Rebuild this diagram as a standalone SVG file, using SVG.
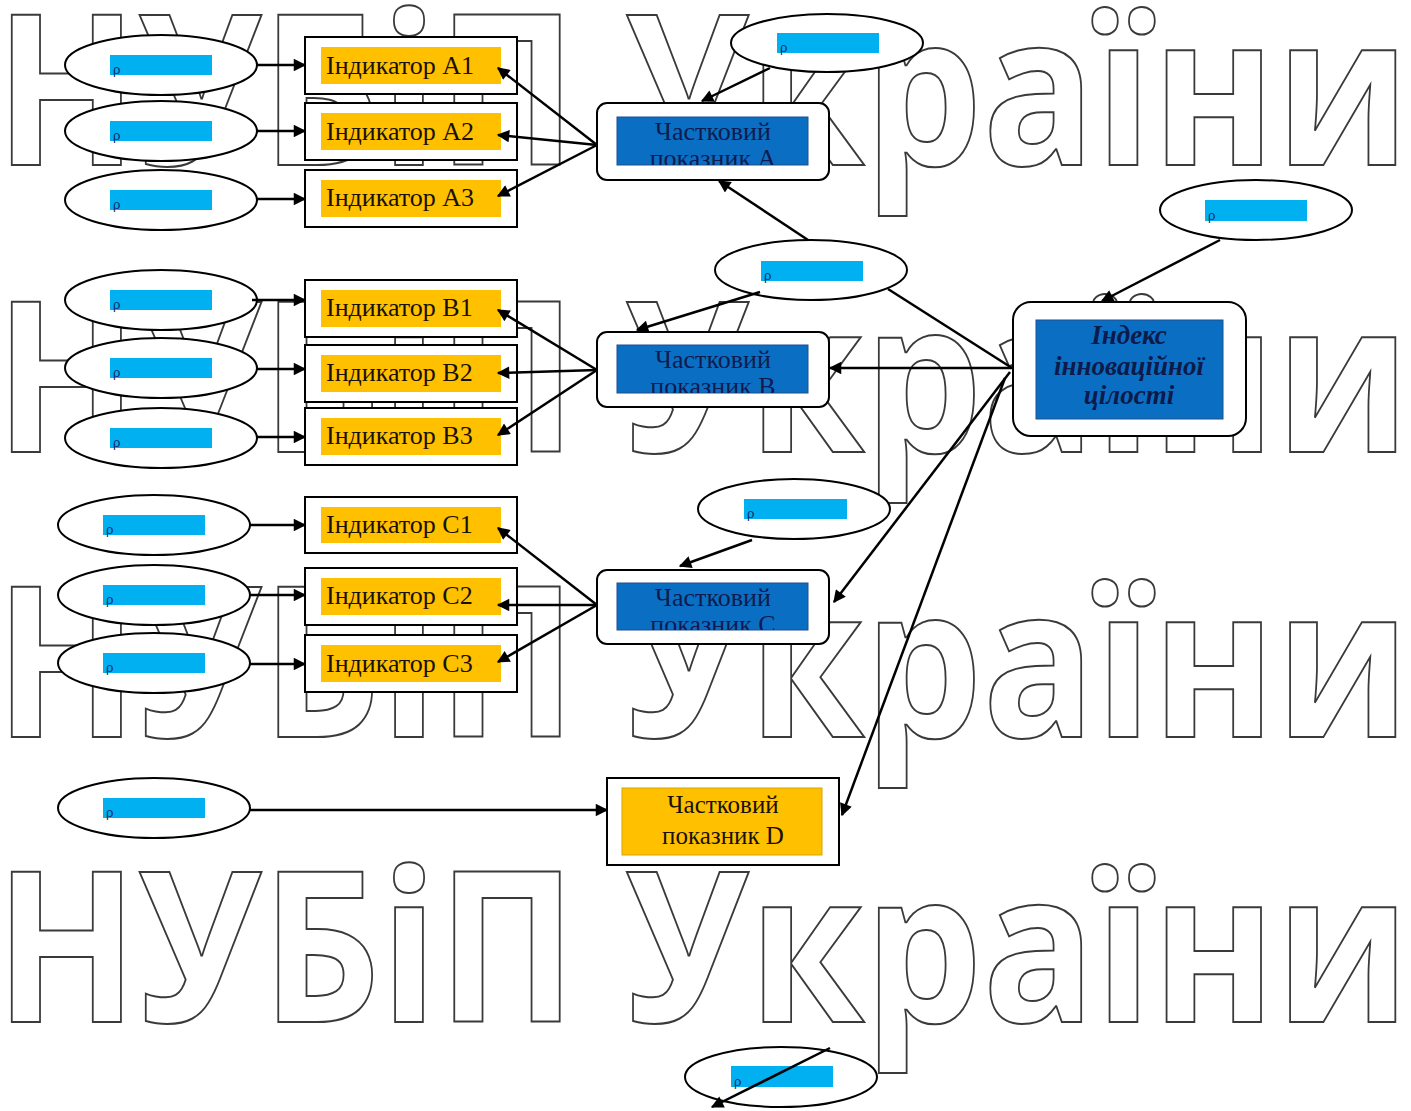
<svg xmlns="http://www.w3.org/2000/svg" width="1411" height="1111" viewBox="0 0 1411 1111">
<style>
.wm{font-family:"Open Sans","DejaVu Sans",sans-serif;font-weight:700;font-size:210px;fill:#fff;stroke:#3a3a3a;stroke-width:2}
.ell{fill:#fff;stroke:#000;stroke-width:2}
.cy{fill:#00B0F0}
.rho{font-family:"Liberation Sans",sans-serif;font-size:13px;fill:#102a6a}
.ibox{fill:#fff;stroke:#000;stroke-width:2}
.or{fill:#FFC000}
.itx{font-family:"Liberation Serif",serif;font-size:26px;fill:#1a1000}
.pbox{fill:#fff;stroke:#000;stroke-width:2}
.bl{fill:#0A6FC2;stroke:#1f4f8f;stroke-width:1}
.ptx{font-family:"Liberation Serif",serif;font-size:26px;fill:#101a50;text-anchor:middle}
.dtx{font-family:"Liberation Serif",serif;font-size:25px;fill:#1a1000;text-anchor:middle}
.xtx{font-family:"Liberation Serif",serif;font-size:27px;font-weight:bold;font-style:italic;fill:#0d1a4a;text-anchor:middle}
.cn{fill:none;stroke:#000;stroke-width:2.5}
</style>
<defs>
<marker id="ah" viewBox="0 0 10 10" refX="9" refY="5" markerWidth="6" markerHeight="5" orient="auto" markerUnits="strokeWidth">
<path d="M0,0 L10,5 L0,10 z" fill="#000"/>
</marker>
<clipPath id="clA"><rect x="617" y="117" width="191" height="48"/></clipPath>
<clipPath id="clB"><rect x="617" y="345" width="191" height="48"/></clipPath>
<clipPath id="clC"><rect x="617" y="583" width="191" height="47"/></clipPath>
</defs>
<rect width="1411" height="1111" fill="#fff"/>
<g id="watermark">
<text class="wm" x="-5" y="165" textLength="1415" lengthAdjust="spacingAndGlyphs">НУБіП України</text>
<text class="wm" x="-5" y="452" textLength="1415" lengthAdjust="spacingAndGlyphs">НУБіП України</text>
<text class="wm" x="-5" y="737" textLength="1415" lengthAdjust="spacingAndGlyphs">НУБіП України</text>
<text class="wm" x="-5" y="1022" textLength="1415" lengthAdjust="spacingAndGlyphs">НУБіП України</text>
</g>
<g id="ellipses">
<g id="eA1"><ellipse class="ell" cx="161" cy="65" rx="96" ry="30"/><rect class="cy" x="110" y="55" width="102" height="20"/><text class="rho" x="113" y="74">ρ</text></g>
<g id="eA2"><ellipse class="ell" cx="161" cy="131" rx="96" ry="30"/><rect class="cy" x="110" y="121" width="102" height="20"/><text class="rho" x="113" y="140">ρ</text></g>
<g id="eA3"><ellipse class="ell" cx="161" cy="200" rx="96" ry="30"/><rect class="cy" x="110" y="190" width="102" height="20"/><text class="rho" x="113" y="209">ρ</text></g>
<g id="eB1"><ellipse class="ell" cx="161" cy="300" rx="96" ry="30"/><rect class="cy" x="110" y="290" width="102" height="20"/><text class="rho" x="113" y="309">ρ</text></g>
<g id="eB2"><ellipse class="ell" cx="161" cy="368" rx="96" ry="30"/><rect class="cy" x="110" y="358" width="102" height="20"/><text class="rho" x="113" y="377">ρ</text></g>
<g id="eB3"><ellipse class="ell" cx="161" cy="438" rx="96" ry="30"/><rect class="cy" x="110" y="428" width="102" height="20"/><text class="rho" x="113" y="447">ρ</text></g>
<g id="eC1"><ellipse class="ell" cx="154" cy="525" rx="96" ry="30"/><rect class="cy" x="103" y="515" width="102" height="20"/><text class="rho" x="106" y="534">ρ</text></g>
<g id="eC2"><ellipse class="ell" cx="154" cy="595" rx="96" ry="30"/><rect class="cy" x="103" y="585" width="102" height="20"/><text class="rho" x="106" y="604">ρ</text></g>
<g id="eC3"><ellipse class="ell" cx="154" cy="663" rx="96" ry="30"/><rect class="cy" x="103" y="653" width="102" height="20"/><text class="rho" x="106" y="672">ρ</text></g>
<g id="eD"><ellipse class="ell" cx="154" cy="808" rx="96" ry="30"/><rect class="cy" x="103" y="798" width="102" height="20"/><text class="rho" x="106" y="817">ρ</text></g>
<g id="eTopA"><ellipse class="ell" cx="827" cy="43" rx="96" ry="29"/><rect class="cy" x="777" y="33" width="102" height="20"/><text class="rho" x="780" y="52">ρ</text></g>
<g id="eMid"><ellipse class="ell" cx="811" cy="270" rx="96" ry="30"/><rect class="cy" x="761" y="261" width="102" height="20"/><text class="rho" x="764" y="280">ρ</text></g>
<g id="eRight"><ellipse class="ell" cx="1256" cy="210" rx="96" ry="30"/><rect class="cy" x="1205" y="200" width="102" height="21"/><text class="rho" x="1208" y="220">ρ</text></g>
<g id="eTopC"><ellipse class="ell" cx="794" cy="509" rx="96" ry="30"/><rect class="cy" x="744" y="499" width="103" height="20"/><text class="rho" x="747" y="518">ρ</text></g>
<g id="eBottom"><ellipse class="ell" cx="781" cy="1077" rx="96" ry="30"/><rect class="cy" x="731" y="1066" width="102" height="21"/><text class="rho" x="734" y="1086">ρ</text></g>
</g>
<g id="indicators">
<g id="iA1"><rect class="ibox" x="305" y="37" width="212" height="57"/><rect class="or" x="321" y="47" width="180" height="37"/><text class="itx" x="326" y="74">Індикатор А1</text></g>
<g id="iA2"><rect class="ibox" x="305" y="103" width="212" height="57"/><rect class="or" x="321" y="113" width="180" height="37"/><text class="itx" x="326" y="140">Індикатор А2</text></g>
<g id="iA3"><rect class="ibox" x="305" y="170" width="212" height="57"/><rect class="or" x="321" y="180" width="180" height="37"/><text class="itx" x="326" y="206">Індикатор А3</text></g>
<g id="iB1"><rect class="ibox" x="305" y="280" width="212" height="57"/><rect class="or" x="321" y="290" width="180" height="37"/><text class="itx" x="326" y="316">Індикатор В1</text></g>
<g id="iB2"><rect class="ibox" x="305" y="345" width="212" height="57"/><rect class="or" x="321" y="355" width="180" height="37"/><text class="itx" x="326" y="381">Індикатор В2</text></g>
<g id="iB3"><rect class="ibox" x="305" y="408" width="212" height="57"/><rect class="or" x="321" y="418" width="180" height="37"/><text class="itx" x="326" y="444">Індикатор В3</text></g>
<g id="iC1"><rect class="ibox" x="305" y="497" width="212" height="56"/><rect class="or" x="321" y="507" width="180" height="36"/><text class="itx" x="326" y="533">Індикатор С1</text></g>
<g id="iC2"><rect class="ibox" x="305" y="568" width="212" height="57"/><rect class="or" x="321" y="578" width="180" height="37"/><text class="itx" x="326" y="604">Індикатор С2</text></g>
<g id="iC3"><rect class="ibox" x="305" y="635" width="212" height="57"/><rect class="or" x="321" y="645" width="180" height="37"/><text class="itx" x="326" y="672">Індикатор С3</text></g>
</g>
<g id="partials">
<g id="pA"><rect class="pbox" x="597" y="103" width="232" height="77" rx="10"/><rect class="bl" x="617" y="117" width="191" height="48"/><g clip-path="url(#clA)"><text class="ptx" x="713" y="140">Частковий</text><text class="ptx" x="713" y="167">показник А</text></g></g>
<g id="pB"><rect class="pbox" x="597" y="332" width="232" height="75" rx="10"/><rect class="bl" x="617" y="345" width="191" height="48"/><g clip-path="url(#clB)"><text class="ptx" x="713" y="368">Частковий</text><text class="ptx" x="713" y="395">показник В</text></g></g>
<g id="pC"><rect class="pbox" x="597" y="570" width="232" height="74" rx="10"/><rect class="bl" x="617" y="583" width="191" height="47"/><g clip-path="url(#clC)"><text class="ptx" x="713" y="606">Частковий</text><text class="ptx" x="713" y="633">показник С</text></g></g>
<g id="pD"><rect class="ibox" x="607" y="778" width="232" height="87"/><rect class="or" x="622" y="788" width="200" height="67" stroke="#d9a400" stroke-width="1"/><text class="dtx" x="723" y="813">Частковий</text><text class="dtx" x="723" y="844">показник D</text></g>
</g>
<g id="index">
<rect class="pbox" x="1013" y="302" width="233" height="134" rx="18"/>
<rect class="bl" x="1036" y="320" width="187" height="99"/>
<text class="xtx" x="1129" y="344">Індекс</text>
<text class="xtx" x="1129" y="375">інноваційної</text>
<text class="xtx" x="1129" y="404">цілості</text>
</g>
<g id="connectors">
<path class="cn" marker-end="url(#ah)" d="M257,65 L305,65"/>
<path class="cn" marker-end="url(#ah)" d="M257,131 L305,131"/>
<path class="cn" marker-end="url(#ah)" d="M257,199 L305,199"/>
<path class="cn" marker-end="url(#ah)" d="M252,300 L305,300"/>
<path class="cn" marker-end="url(#ah)" d="M257,369 L305,369"/>
<path class="cn" marker-end="url(#ah)" d="M257,437 L305,437"/>
<path class="cn" marker-end="url(#ah)" d="M250,525 L305,525"/>
<path class="cn" marker-end="url(#ah)" d="M250,595 L305,595"/>
<path class="cn" marker-end="url(#ah)" d="M250,664 L305,664"/>
<path class="cn" marker-end="url(#ah)" d="M250,810 L607,810"/>
<path class="cn" marker-end="url(#ah)" d="M597,145 L498,68"/>
<path class="cn" marker-end="url(#ah)" d="M597,145 L498,135"/>
<path class="cn" marker-end="url(#ah)" d="M597,145 L498,196"/>
<path class="cn" marker-end="url(#ah)" d="M597,370 L498,310"/>
<path class="cn" marker-end="url(#ah)" d="M597,370 L498,373"/>
<path class="cn" marker-end="url(#ah)" d="M597,370 L498,435"/>
<path class="cn" marker-end="url(#ah)" d="M597,605 L498,528"/>
<path class="cn" marker-end="url(#ah)" d="M597,605 L498,605"/>
<path class="cn" marker-end="url(#ah)" d="M597,605 L498,662"/>
<path class="cn" marker-end="url(#ah)" d="M770,68 L702,101"/>
<path class="cn" d="M1012,368 L888,289"/>
<path class="cn" marker-end="url(#ah)" d="M808,240 L719,181"/>
<path class="cn" marker-end="url(#ah)" d="M760,292 L637,330"/>
<path class="cn" marker-end="url(#ah)" d="M1220,240 L1102,301"/>
<path class="cn" marker-end="url(#ah)" d="M1013,368 L830,368"/>
<path class="cn" marker-end="url(#ah)" d="M1010,372 L834,602"/>
<path class="cn" marker-end="url(#ah)" d="M1005,378 L842,815"/>
<path class="cn" marker-end="url(#ah)" d="M752,540 L680,566"/>
<path class="cn" marker-end="url(#ah)" d="M830,1048 L712,1107"/>
</g>
</svg>
